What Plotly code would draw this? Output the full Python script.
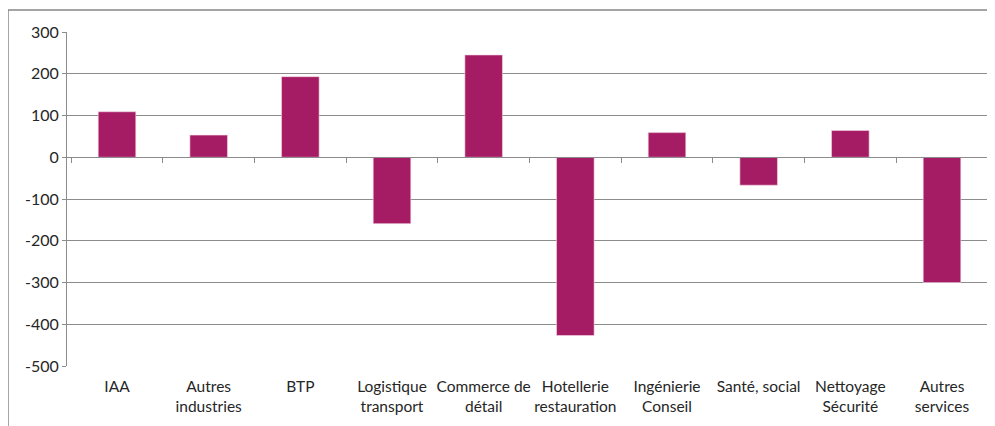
import plotly.graph_objects as go

categories = ["IAA", "Autres<br>industries", "BTP", "Logistique<br>transport",
              "Commerce de<br>détail", "Hotellerie<br>restauration", "Ingénierie<br>Conseil",
              "Santé, social", "Nettoyage<br>Sécurité", "Autres<br>services"]
values = [109, 53, 193, -159, 245, -427, 59, -67, 64, -300]
y_ticks = [300, 200, 100, 0, -100, -200, -300, -400, -500]
y_tick_labels = ["300", "200", "100", "0", "-100", "-200", "-300", "-400", "-500"]

bar_color = "#A61C64"
grid_color = "#8C8C8C"
text_color = "#262626"
font_family = "Lato, 'Open Sans', sans-serif"

fig = go.Figure()
fig.add_trace(go.Bar(x=categories, y=values, marker=dict(color=bar_color, line=dict(color="#F2D6E4", width=0.6)),
                     width=0.41, showlegend=False, hoverinfo="x+y"))
# invisible trace to carry the zero-line axis with category boundary ticks
fig.add_trace(go.Scatter(x=categories, y=[0] * len(categories), xaxis="x2", mode="markers",
                         marker=dict(opacity=0), showlegend=False, hoverinfo="skip"))

fig.update_layout(
    width=995, height=426,
    margin=dict(l=59, r=11, t=24, b=68),
    paper_bgcolor="white", plot_bgcolor="white",
    font=dict(family=font_family, size=14, color=text_color),
    xaxis=dict(categoryorder="array", categoryarray=categories, showgrid=False,
               showline=False, ticks="", tickfont=dict(size=15.5), zeroline=False,
               ticklabelstandoff=9),
    xaxis2=dict(overlaying="x", matches="x", anchor="free", position=0.625,
                showticklabels=False, ticks="outside", tickson="boundaries", ticklen=5,
                tickcolor=grid_color, showline=True, linecolor=grid_color, linewidth=1,
                showgrid=False, zeroline=False),
    yaxis=dict(range=[-500, 300], tickvals=y_ticks, ticktext=y_tick_labels, showgrid=True,
               gridcolor=grid_color, gridwidth=1, zeroline=False, showline=True,
               linecolor=grid_color, ticks="outside", ticklen=4, tickcolor=grid_color,
               tickfont=dict(size=16)),
    bargap=0.59,
    shapes=[dict(type="rect", xref="paper", yref="paper", x0=-0.0638, x1=1.2,
                 y0=-0.4, y1=1.066, line=dict(color="#868686", width=1.5), layer="below")],
)

fig.write_html("out.html")
